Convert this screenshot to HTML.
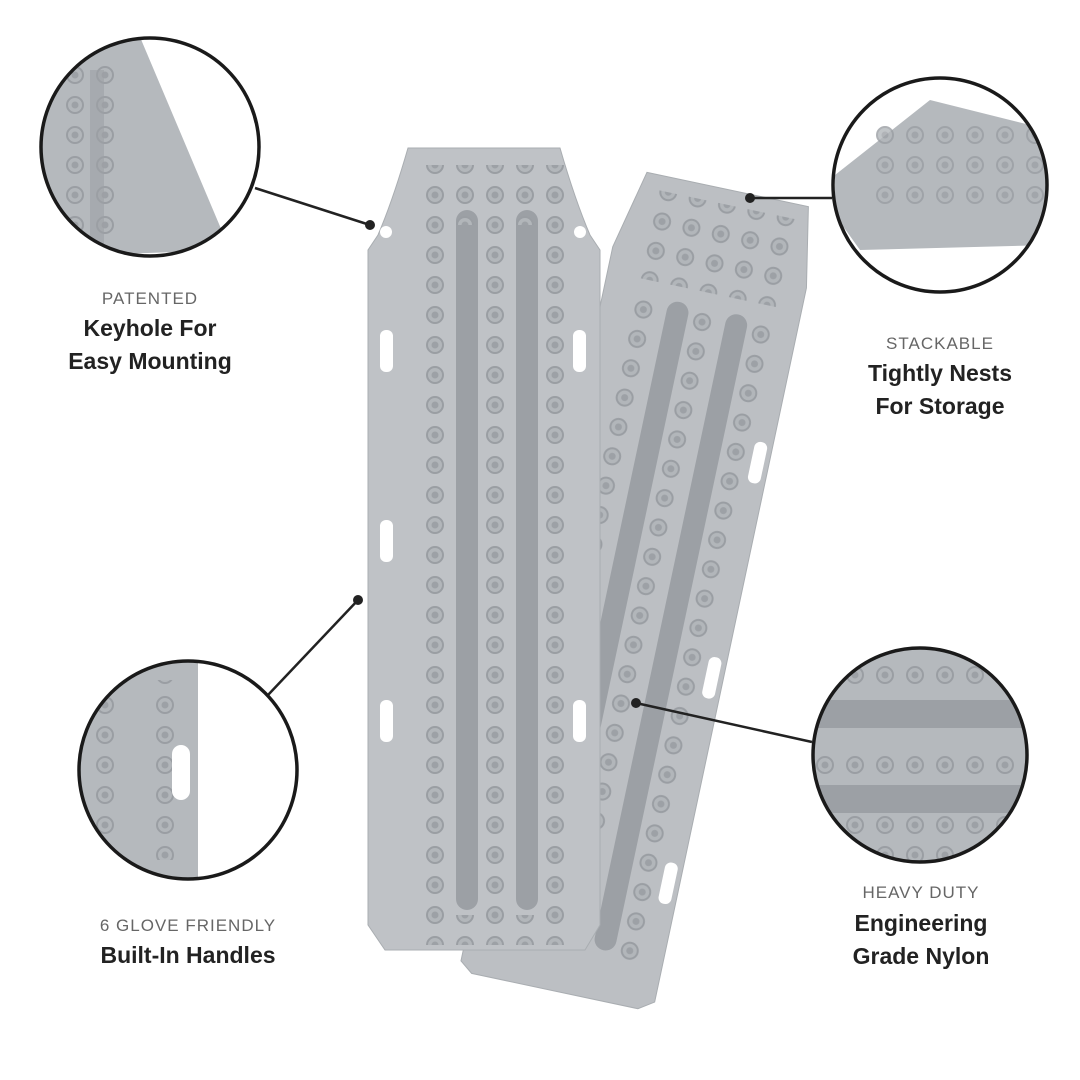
<!DOCTYPE html>
<html><head><meta charset="utf-8"><style>
html,body{margin:0;padding:0;background:#fff;}
body{width:1080px;height:1080px;position:relative;overflow:hidden;font-family:"Liberation Sans",sans-serif;}
.t{position:absolute;text-align:center;width:300px;color:#222;}
.s{font-size:17px;color:#666;letter-spacing:1px;}
.b{font-size:23px;font-weight:bold;line-height:33px;}
</style></head><body>
<svg width="1080" height="1080" style="position:absolute;left:0;top:0">
<defs>
<pattern id="stud" x="0" y="0" width="30" height="30" patternUnits="userSpaceOnUse">
<circle cx="15" cy="15" r="8" fill="#b2b6ba" stroke="#9a9ea3" stroke-width="2"/>
<circle cx="15" cy="15" r="3.5" fill="#9da1a6"/>
</pattern>
<clipPath id="c1"><circle cx="150" cy="147" r="108"/></clipPath>
<clipPath id="c2"><circle cx="940" cy="185" r="106"/></clipPath>
<clipPath id="c3"><circle cx="188" cy="770" r="108"/></clipPath>
<clipPath id="c4"><circle cx="920" cy="755" r="106"/></clipPath>
</defs>
<!-- right board -->
<g transform="rotate(12 640 590)">
<path d="M560 180 L725 180 L740 260 L740 990 L725 1000 L555 1000 L542 990 L542 260 Z" fill="#bcbfc3" stroke="#a9adb1"/>
<rect x="608" y="300" width="22" height="650" fill="#9ca0a5" rx="11"/>
<rect x="668" y="300" width="22" height="650" fill="#9ca0a5" rx="11"/>
<rect x="570" y="195" width="150" height="90" fill="url(#stud)"/>
<rect x="570" y="300" width="30" height="660" fill="url(#stud)"/>
<rect x="630" y="300" width="30" height="660" fill="url(#stud)"/>
<rect x="690" y="300" width="30" height="660" fill="url(#stud)"/>
<rect x="722" y="420" width="13" height="42" rx="6" fill="#fff"/>
<rect x="722" y="640" width="13" height="42" rx="6" fill="#fff"/>
<rect x="722" y="850" width="13" height="42" rx="6" fill="#fff"/>
</g>
<!-- left board -->
<path d="M408 148 L560 148 Q575 200 590 235 L600 250 L600 925 L585 950 L385 950 L368 925 L368 250 L378 235 Q393 200 408 148 Z" fill="#bfc2c6" stroke="#a9adb1"/>
<rect x="456" y="210" width="22" height="700" rx="11" fill="#9ca0a5"/>
<rect x="516" y="210" width="22" height="700" rx="11" fill="#9ca0a5"/>
<rect x="420" y="165" width="150" height="60" fill="url(#stud)"/>
<rect x="420" y="225" width="30" height="690" fill="url(#stud)"/>
<rect x="480" y="225" width="30" height="690" fill="url(#stud)"/>
<rect x="540" y="225" width="30" height="690" fill="url(#stud)"/>
<rect x="420" y="915" width="150" height="30" fill="url(#stud)"/>
<circle cx="386" cy="232" r="6" fill="#fff"/><circle cx="580" cy="232" r="6" fill="#fff"/>
<rect x="380" y="330" width="13" height="42" rx="6" fill="#fff"/>
<rect x="380" y="520" width="13" height="42" rx="6" fill="#fff"/>
<rect x="380" y="700" width="13" height="42" rx="6" fill="#fff"/>
<rect x="573" y="330" width="13" height="42" rx="6" fill="#fff"/>
<rect x="573" y="700" width="13" height="42" rx="6" fill="#fff"/>
<!-- connectors -->
<g stroke="#222" stroke-width="2.5">
<line x1="255" y1="188" x2="370" y2="225"/>
<line x1="750" y1="198" x2="832" y2="198"/>
<line x1="268" y1="695" x2="358" y2="600"/>
<line x1="636" y1="703" x2="812" y2="742"/>
</g>
<g fill="#222"><circle cx="370" cy="225" r="5"/><circle cx="750" cy="198" r="5"/><circle cx="358" cy="600" r="5"/><circle cx="636" cy="703" r="5"/></g>
<!-- circles -->
<g clip-path="url(#c1)"><rect x="40" y="37" width="220" height="220" fill="#fff"/>
<path d="M40 37 L140 37 L230 250 L40 257 Z" fill="#b5b9bd"/>
<rect x="60" y="60" width="60" height="180" fill="url(#stud)"/><rect x="90" y="70" width="14" height="190" fill="#9ca0a5" opacity=".6"/></g>
<circle cx="150" cy="147" r="109" fill="none" stroke="#1a1a1a" stroke-width="3.5"/>
<g clip-path="url(#c2)"><rect x="830" y="75" width="220" height="220" fill="#fff"/>
<path d="M835 175 L930 100 L1050 130 L1050 245 L860 250 L835 215 Z" fill="#b5b9bd"/>
<rect x="870" y="120" width="180" height="90" fill="url(#stud)" opacity=".8"/></g>
<circle cx="940" cy="185" r="107" fill="none" stroke="#1a1a1a" stroke-width="3.5"/>
<g clip-path="url(#c3)"><rect x="78" y="660" width="220" height="220" fill="#fff"/>
<rect x="78" y="660" width="120" height="220" fill="#b5b9bd"/>
<rect x="90" y="680" width="30" height="180" fill="url(#stud)"/><rect x="150" y="680" width="30" height="180" fill="url(#stud)"/>
<rect x="172" y="745" width="18" height="55" rx="9" fill="#fff"/></g>
<circle cx="188" cy="770" r="109" fill="none" stroke="#1a1a1a" stroke-width="3.5"/>
<g clip-path="url(#c4)"><rect x="812" y="647" width="220" height="220" fill="#b5b9bd"/>
<rect x="812" y="700" width="220" height="28" fill="#9ca0a5"/><rect x="812" y="785" width="220" height="28" fill="#9ca0a5"/>
<rect x="812" y="660" width="220" height="30" fill="url(#stud)"/><rect x="812" y="750" width="220" height="30" fill="url(#stud)"/><rect x="812" y="810" width="220" height="60" fill="url(#stud)"/></g>
<circle cx="920" cy="755" r="107" fill="none" stroke="#1a1a1a" stroke-width="3.5"/>
</svg>
<div class="t s" style="left:0;top:289px">PATENTED</div>
<div class="t b" style="left:0;top:312px">Keyhole For<br>Easy Mounting</div>
<div class="t s" style="left:790px;top:334px">STACKABLE</div>
<div class="t b" style="left:790px;top:357px">Tightly Nests<br>For Storage</div>
<div class="t s" style="left:38px;top:916px">6 GLOVE FRIENDLY</div>
<div class="t b" style="left:38px;top:939px">Built-In Handles</div>
<div class="t s" style="left:771px;top:883px">HEAVY DUTY</div>
<div class="t b" style="left:771px;top:907px">Engineering<br>Grade Nylon</div>
</body></html>
